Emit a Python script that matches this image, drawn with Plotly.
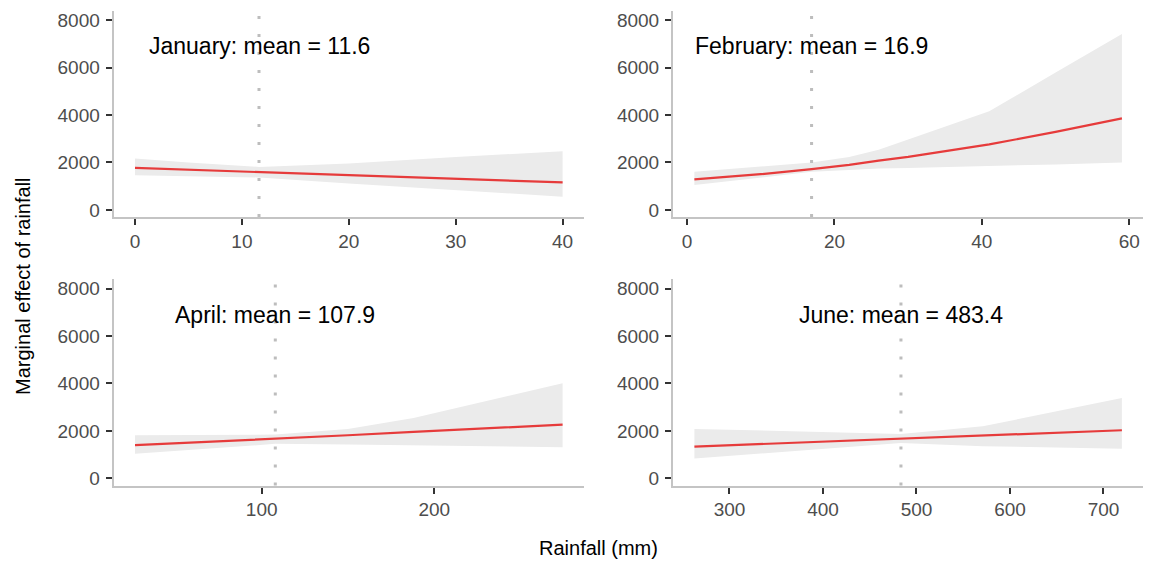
import plotly.graph_objects as go

# ---- data ----
months = ["January", "February", "April", "June"]
means = [11.6, 16.9, 107.9, 483.4]

jan_x = [0, 5, 11.6, 20, 30, 40]
jan_fit = [1772, 1695, 1594, 1465, 1312, 1159]
jan_hi = [2164, 2000, 1815, 1955, 2234, 2471]
jan_lo = [1466, 1424, 1368, 1117, 838, 558]

feb_x = [1, 10, 16.9, 22, 26, 30, 41, 50, 59]
feb_fit = [1285, 1508, 1717, 1900, 2080, 2240, 2764, 3290, 3866]
feb_hi = [1606, 1815, 1997, 2234, 2541, 2973, 4161, 5795, 7428]
feb_lo = [1047, 1368, 1606, 1680, 1745, 1770, 1843, 1920, 1997]

apr_x = [26.6, 107.9, 150, 188, 274.4]
apr_fit = [1400, 1660, 1820, 1960, 2266]
apr_hi = [1820, 1846, 2085, 2546, 4014]
apr_lo = [1036, 1456, 1428, 1400, 1317]

jun_x = [262.5, 483.4, 571, 719.7]
jun_fit = [1342, 1665, 1790, 2030]
jun_hi = [2085, 1875, 2198, 3385]
jun_lo = [839, 1497, 1359, 1246]

x_ticks = [[0, 10, 20, 30, 40], [0, 20, 40, 60], [100, 200], [300, 400, 500, 600, 700]]
x_ranges = [[-2, 42], [-1.9, 61.9], [14.2, 286.8], [239.6, 742.6]]
y_ticks = [0, 2000, 4000, 6000, 8000]
y_range = [-300, 8400]

series = [
    (jan_x, jan_fit, jan_lo, jan_hi),
    (feb_x, feb_fit, feb_lo, feb_hi),
    (apr_x, apr_fit, apr_lo, apr_hi),
    (jun_x, jun_fit, jun_lo, jun_hi),
]

FONT = "Liberation Sans, Arial, sans-serif"
RED = "#e63b3b"
RIBBON = "#ebebeb"
W, H = 1154, 567

x_domains = [[113.6 / W, 584 / W], [673 / W, 1143.3 / W]]
y_domains = [[1 - 217.5 / H, 1 - 10 / H], [1 - 488 / H, 1 - 280 / H]]

fig = go.Figure()
layout = dict(
    width=W, height=H,
    margin=dict(l=0, r=0, t=0, b=0),
    paper_bgcolor="white", plot_bgcolor="white",
    showlegend=False,
    font=dict(family=FONT),
)

shapes = []
annotations = []
for i, (xs, fit, lo, hi) in enumerate(series):
    n = i + 1
    xa = "x" if n == 1 else f"x{n}"
    ya = "y" if n == 1 else f"y{n}"
    fig.add_trace(go.Scatter(x=xs, y=lo, mode="lines", line=dict(width=0, color=RIBBON),
                             xaxis=xa, yaxis=ya, hoverinfo="skip"))
    fig.add_trace(go.Scatter(x=xs, y=hi, mode="lines", line=dict(width=0, color=RIBBON),
                             fill="tonexty", fillcolor=RIBBON, xaxis=xa, yaxis=ya, hoverinfo="skip"))
    fig.add_trace(go.Scatter(x=xs, y=fit, mode="lines", line=dict(width=2.2, color=RED),
                             xaxis=xa, yaxis=ya))
    row, col = divmod(i, 2)
    axis_common = dict(
        showline=True, linecolor="#c4c4c4", linewidth=2,
        ticks="outside", ticklen=6, tickwidth=1.5, tickcolor="#333333",
        tickfont=dict(size=19, color="#4d4d4d", family=FONT),
        ticklabeloverflow="allow",
        showgrid=False, zeroline=False, fixedrange=True,
    )
    layout["xaxis" if n == 1 else f"xaxis{n}"] = dict(
        axis_common, domain=x_domains[col], range=x_ranges[i],
        tickvals=x_ticks[i], anchor=ya, ticklabelstandoff=0,
    )
    layout["yaxis" if n == 1 else f"yaxis{n}"] = dict(
        axis_common, domain=y_domains[row], range=y_range,
        tickvals=y_ticks, anchor=xa, ticklabelstandoff=2,
    )
    shapes.append(dict(type="line", xref=xa, yref=f"{ya} domain",
                       x0=means[i], x1=means[i], y0=0, y1=0.975,
                       line=dict(color="#bdbdbd", width=3, dash="3px,15px"), layer="above"))
    annotations.append(dict(x=means[i], y=6900, xref=xa, yref=ya,
                            text=f"{months[i]}: mean = {means[i]}", showarrow=False,
                            xanchor="center", yanchor="middle",
                            font=dict(size=23, color="black", family=FONT)))

annotations.append(dict(x=598 / W, y=1 - 551 / H, xref="paper", yref="paper",
                        text="Rainfall (mm)", showarrow=False, xanchor="center", yanchor="middle",
                        font=dict(size=20, color="black", family=FONT)))
annotations.append(dict(x=23 / W, y=1 - 287 / H, xref="paper", yref="paper",
                        text="Marginal effect of rainfall", showarrow=False, textangle=-90,
                        xanchor="center", yanchor="middle",
                        font=dict(size=20, color="black", family=FONT)))

layout["shapes"] = shapes
layout["annotations"] = annotations
fig.update_layout(**layout)
fig.write_html("out.html", config={"displayModeBar": False},
               post_script="document.body.style.margin='0';document.body.style.overflow='hidden';")
